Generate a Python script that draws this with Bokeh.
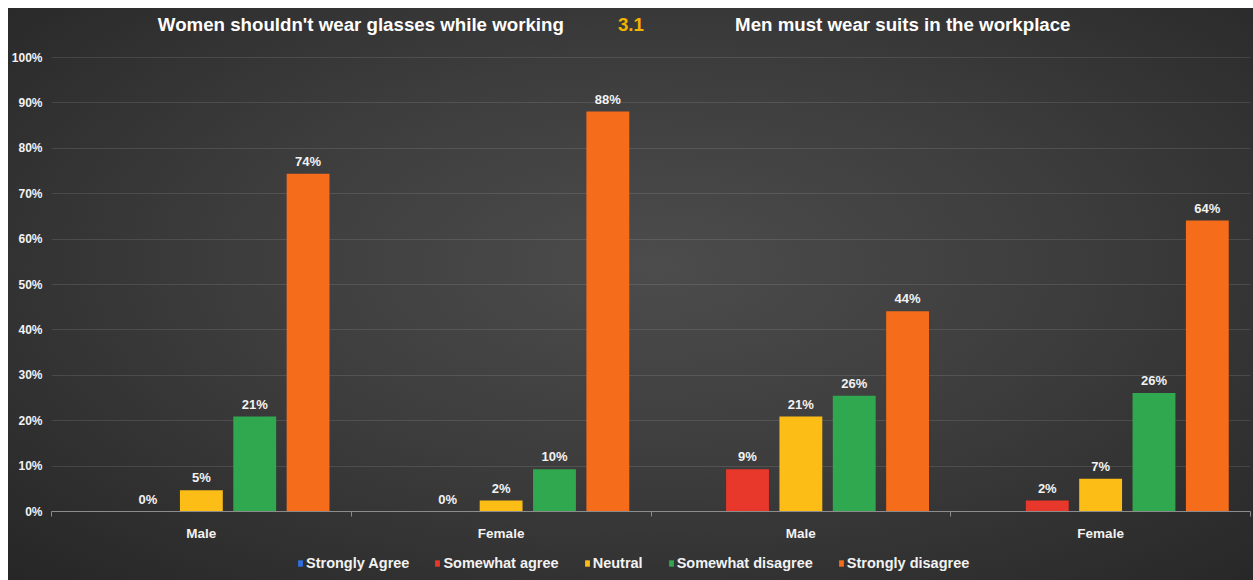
from bokeh.plotting import figure
from bokeh.models import (ColumnDataSource, FixedTicker, Legend, LegendItem, Range1d)
from bokeh.layouts import column
from bokeh.core.properties import value
from bokeh.embed import file_html
from bokeh.resources import INLINE

# ---------------- data ----------------
groups = ["Male", "Female", "Male", "Female"]
series = ["Strongly Agree", "Somewhat agree", "Neutral", "Somewhat disagree", "Strongly disagree"]
strongly_agree = [0.0, 0.0, 0.0, 0.0]
somewhat_agree = [0.0, 0.0, 9.3, 2.4]
neutral = [4.7, 2.4, 20.9, 7.2]
somewhat_disagree = [20.9, 9.3, 25.5, 26.1]
strongly_disagree = [74.4, 88.1, 44.1, 64.1]
strongly_agree_labels = ["", "", "", ""]
somewhat_agree_labels = ["0%", "0%", "9%", "2%"]
neutral_labels = ["5%", "2%", "21%", "7%"]
somewhat_disagree_labels = ["21%", "10%", "26%", "26%"]
strongly_disagree_labels = ["74%", "88%", "44%", "64%"]
y_ticks = [0, 10, 20, 30, 40, 50, 60, 70, 80, 90, 100]
title_left = "Women shouldn't wear glasses while working"
title_mid = "3.1"
title_right = "Men must wear suits in the workplace"

values = [strongly_agree, somewhat_agree, neutral, somewhat_disagree, strongly_disagree]
labels = [strongly_agree_labels, somewhat_agree_labels, neutral_labels,
          somewhat_disagree_labels, strongly_disagree_labels]
colors = ["#2f6fe0", "#e8372b", "#fbbd16", "#2fa84f", "#f56c1a"]

FONT = "Liberation Sans"
TXT = "#f2f2f2"

p = figure(width=1245, height=540, output_backend="svg", toolbar_location=None,
           x_range=Range1d(0, 4), y_range=Range1d(0, 110.8),
           min_border_top=0, min_border_left=42, min_border_right=3, min_border_bottom=37)
p.background_fill_alpha = 0
p.border_fill_alpha = 0
p.outline_line_color = None

# axes
p.yaxis.ticker = FixedTicker(ticks=y_ticks)
p.yaxis.major_label_overrides = {t: f"{t}%" for t in y_ticks}
p.yaxis.axis_line_color = None
p.yaxis.major_tick_line_color = None
p.yaxis.major_tick_out = 0
p.yaxis.major_tick_in = 0
p.yaxis.minor_tick_line_color = None
p.yaxis.major_label_standoff = 9
p.yaxis.major_label_text_color = TXT
p.yaxis.major_label_text_font = FONT
p.yaxis.major_label_text_font_style = "bold"
p.yaxis.major_label_text_font_size = "12px"

centers = [i + 0.5 for i in range(len(groups))]
p.xaxis.ticker = FixedTicker(ticks=centers, minor_ticks=[0, 1, 2, 3, 4])
p.xaxis.major_label_overrides = {c: g for c, g in zip(centers, groups)}
p.xaxis.axis_line_color = "#8c8c8c"
p.xaxis.axis_line_width = 1
p.xaxis.major_tick_line_color = None
p.xaxis.major_tick_out = 0
p.xaxis.major_tick_in = 0
p.xaxis.minor_tick_line_color = "#8c8c8c"
p.xaxis.minor_tick_out = 5
p.xaxis.minor_tick_in = 0
p.xaxis.major_label_standoff = 9
p.xaxis.major_label_text_color = TXT
p.xaxis.major_label_text_font = FONT
p.xaxis.major_label_text_font_style = "bold"
p.xaxis.major_label_text_font_size = "13.5px"

p.xgrid.grid_line_color = None
p.ygrid.grid_line_color = "#ffffff"
p.ygrid.grid_line_alpha = 0.11
p.ygrid.grid_line_width = 1

step = 0.178
bar_w = 0.143
for j, (name, vals, labs, col) in enumerate(zip(series, values, labels, colors)):
    xs = [c + (j - 2) * step for c in centers]
    src = ColumnDataSource(dict(x=xs, top=vals, lab=labs))
    p.vbar(x="x", top="top", width=bar_w, bottom=0, source=src,
           fill_color=col, line_color=None)
    p.text(x="x", y="top", text="lab", source=src, text_align="center",
           text_baseline="bottom", y_offset=-5, text_color=TXT,
           text_font=value(FONT), text_font_style="bold", text_font_size="13px")

# titles
ty = 107.3
p.text(x=[1.032], y=[ty], text=[title_left], text_align="center", text_baseline="middle",
       text_color="#ffffff", text_font=value(FONT), text_font_style="bold", text_font_size="18.7px")
p.text(x=[1.933], y=[ty], text=[title_mid], text_align="center", text_baseline="middle",
       text_color="#f3b400", text_font=value(FONT), text_font_style="bold", text_font_size="18.7px")
p.text(x=[2.84], y=[ty], text=[title_right], text_align="center", text_baseline="middle",
       text_color="#ffffff", text_font=value(FONT), text_font_style="bold", text_font_size="18.7px")

# legend strip (separate small figure below the chart)
lf = figure(width=1245, height=32, output_backend="svg", toolbar_location=None,
            x_range=Range1d(0, 1), y_range=Range1d(0, 1),
            min_border=0, x_axis_type=None, y_axis_type=None)
lf.background_fill_alpha = 0
lf.border_fill_alpha = 0
lf.outline_line_color = None
lf.grid.visible = False
items = []
for name, col in zip(series, colors):
    # legend proxy, placed outside the visible range
    r = lf.vbar(x=[-5], top=[0], width=0.1, fill_color=col, line_color=None)
    items.append(LegendItem(label=name, renderers=[r]))
legend = Legend(items=items, orientation="horizontal", location=(246, 9),
                background_fill_alpha=0, border_line_color=None,
                label_text_color=TXT, label_text_font=FONT,
                label_text_font_style="bold", label_text_font_size="14.5px",
                glyph_width=6, glyph_height=8, label_standoff=3, spacing=25,
                padding=0, margin=0)
lf.add_layout(legend, "center")

layout = column(p, lf, spacing=0, margin=(8, 0, 0, 8),
                styles={"background": "radial-gradient(ellipse at 52% 45%, #4c4c4c 0%, #3d3d3d 45%, #262626 100%)"})

open("out.html", "w").write(file_html(layout, INLINE))
